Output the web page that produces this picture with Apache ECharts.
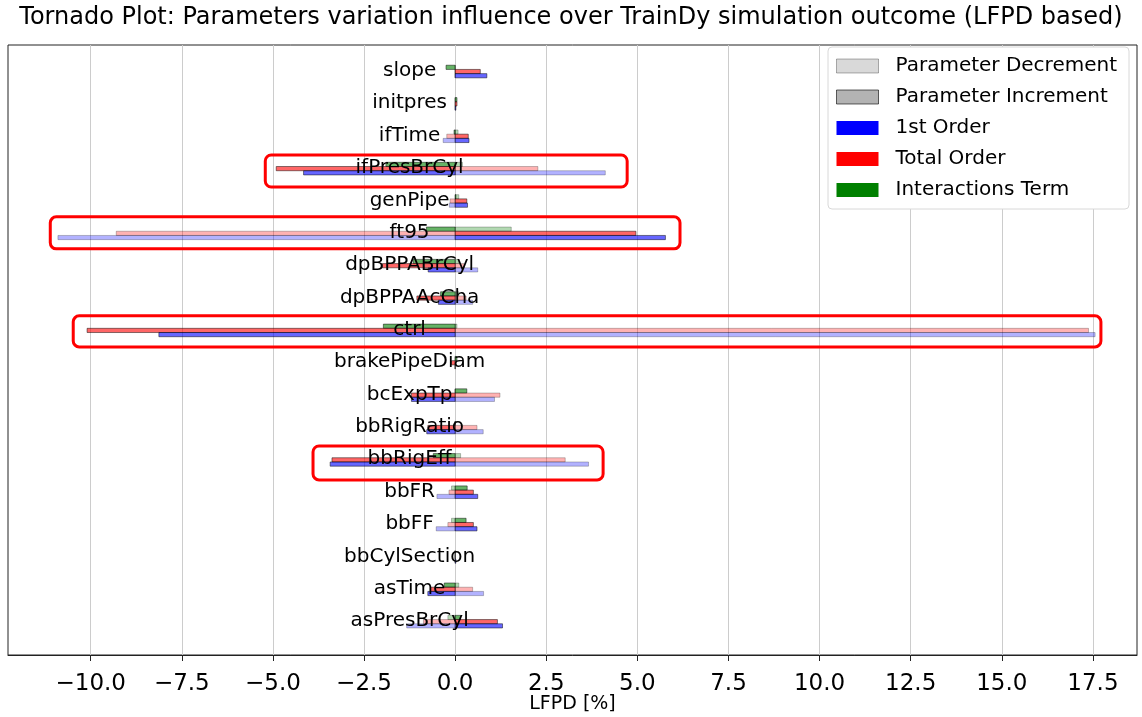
<!DOCTYPE html>
<html>
<head>
<meta charset="utf-8">
<script src="https://cdn.jsdelivr.net/npm/echarts@6/dist/echarts.min.js"></script>
<style>
  html, body { margin: 0; padding: 0; background: #fff; }
  #main { width: 1142px; height: 717px; }
</style>
</head>
<body>
<div id="main"></div>
<script>
// parameters, top to bottom
const params = ['slope', 'initpres', 'ifTime', 'ifPresBrCyl', 'genPipe', 'ft95', 'dpBPPABrCyl',
  'dpBPPAAcCha', 'ctrl', 'brakePipeDiam', 'bcExpTp', 'bbRigRatio', 'bbRigEff', 'bbFR', 'bbFF',
  'bbCylSection', 'asTime', 'asPresBrCyl'];

// LFPD variation [%] for parameter decrement / increment
const firstDec = [0, 0, -0.33, 4.12, -0.16, -10.9, 0.62, 0.48, 17.56, 0, 1.08, 0.77, 3.66, -0.5, -0.52, 0, 0.78, -1.33];
const firstInc = [0.87, 0.02, 0.38, -4.16, 0.34, 5.77, -0.74, -0.46, -8.13, 0, -1.2, -0.78, -3.43, 0.62, 0.6, 0.02, -0.75, 1.3];
const totalDec = [0, 0, -0.23, 2.27, -0.14, -9.3, 0.25, 0.3, 17.38, 0, 1.23, 0.6, 3.02, -0.17, -0.2, 0, 0.48, -0.87];
const totalInc = [0.69, 0.05, 0.36, -4.91, 0.32, 4.96, -2.0, -1.05, -10.1, -0.1, -1.2, -0.75, -3.38, 0.5, 0.5, 0, -0.68, 1.16];
const interDec = [0, 0, 0.08, 0.2, 0.1, 1.54, 0.1, 0.1, 0.05, 0, 0, 0, 0.15, -0.1, -0.1, 0, 0.1, -0.2];
const interInc = [-0.25, 0.05, -0.03, -1.9, 0.02, -0.79, -1.15, -0.4, -1.97, 0.05, 0.32, 0, -0.6, 0.33, 0.3, 0, -0.3, 0.15];

const xTicks = [-10, -7.5, -5, -2.5, 0, 2.5, 5, 7.5, 10, 12.5, 15, 17.5];

// red annotation boxes: parameter, x from, x to, y from, y to (in row units)
const highlights = [
  ['ifPresBrCyl', -5.21, 4.72, 2.63, 3.62],
  ['ft95', -11.11, 6.17, 4.54, 5.53],
  ['ctrl', -10.48, 17.72, 7.6, 8.56],
  ['bbRigEff', -3.9, 4.06, 11.62, 12.67]
];

const FONT = 'DejaVu Sans';
const barH = 0.13;

function barSeries(name, values, rgb, alpha, offset) {
  return {
    name: name,
    type: 'custom',
    data: values.map((v, i) => [v, i]),
    encode: { x: 0, y: 1 },
    z: 2,
    renderItem: function (p, api) {
      const v = api.value(0), i = api.value(1);
      const a = api.coord([0, i + offset - barH / 2]);
      const b = api.coord([v, i + offset + barH / 2]);
      return {
        type: 'rect',
        shape: {
          x: Math.min(a[0], b[0]), y: Math.min(a[1], b[1]),
          width: Math.abs(b[0] - a[0]), height: Math.abs(b[1] - a[1])
        },
        style: {
          fill: 'rgba(' + rgb + ',' + alpha + ')',
          stroke: 'rgba(0,0,0,' + alpha + ')',
          lineWidth: 0.8
        }
      };
    }
  };
}

const chart = echarts.init(document.getElementById('main'));

chart.setOption({
  animation: false,
  textStyle: { fontFamily: FONT },
  title: {
    text: 'Tornado Plot: Parameters variation influence over TrainDy simulation outcome (LFPD based)',
    left: 'center',
    top: 1,
    textStyle: { fontFamily: FONT, fontSize: 24, fontWeight: 'normal', color: '#000' }
  },
  legend: {
    orient: 'vertical',
    left: 828,
    top: 47,
    padding: [9, 12, 9, 8],
    itemWidth: 42,
    itemHeight: 14,
    itemGap: 11,
    icon: 'rect',
    backgroundColor: '#fff',
    borderColor: '#d8d8d8',
    borderWidth: 1,
    borderRadius: 4,
    textStyle: { fontFamily: FONT, fontSize: 20, color: '#000', padding: [0, 0, 0, 12] },
    data: [
      { name: 'Parameter Decrement', itemStyle: { color: 'rgba(128,128,128,0.3)', borderColor: 'rgba(0,0,0,0.3)', borderWidth: 1 } },
      { name: 'Parameter Increment', itemStyle: { color: 'rgba(128,128,128,0.6)', borderColor: 'rgba(0,0,0,0.6)', borderWidth: 1 } },
      { name: '1st Order', itemStyle: { color: '#0000ff', borderWidth: 0 } },
      { name: 'Total Order', itemStyle: { color: '#ff0000', borderWidth: 0 } },
      { name: 'Interactions Term', itemStyle: { color: '#008000', borderWidth: 0 } }
    ]
  },
  grid: {
    left: 8, right: 5, top: 45, bottom: 62,
    containLabel: false,
    outerBoundsMode: 'none',
    show: true, borderColor: '#222', borderWidth: 1
  },
  xAxis: {
    type: 'value',
    min: -12.27,
    max: 18.71,
    name: 'LFPD [%]',
    nameLocation: 'middle',
    nameGap: 40,
    nameMoveOverlap: false,
    nameTextStyle: { fontFamily: FONT, fontSize: 19, color: '#000' },
    axisLine: { show: true, onZero: false, lineStyle: { color: '#222' } },
    axisTick: { show: true, customValues: xTicks, length: 6, lineStyle: { color: '#222' } },
    axisLabel: {
      customValues: xTicks,
      fontSize: 23,
      color: '#000',
      margin: 18,
      formatter: v => v.toFixed(1).replace('-', '\u2212')
    },
    splitLine: { show: true, lineStyle: { color: '#cccccc', width: 1 } }
  },
  yAxis: {
    type: 'value',
    min: -0.77,
    max: 18.08,
    inverse: true,
    show: false,
    splitLine: { show: false }
  },
  series: [
    { name: 'Parameter Decrement', type: 'custom', data: [], renderItem: () => null },
    { name: 'Parameter Increment', type: 'custom', data: [], renderItem: () => null },
    barSeries('Interactions Term', interDec, '0,128,0', 0.3, -0.08),
    barSeries('Interactions Term', interInc, '0,128,0', 0.6, -0.08),
    barSeries('Total Order', totalDec, '255,0,0', 0.3, 0.05),
    barSeries('Total Order', totalInc, '255,0,0', 0.6, 0.05),
    barSeries('1st Order', firstDec, '0,0,255', 0.3, 0.18),
    barSeries('1st Order', firstInc, '0,0,255', 0.6, 0.18),
    {
      name: 'labels',
      type: 'custom',
      z: 5,
      data: params.map((p, i) => [-1.25, i]),
      encode: { x: 0, y: 1 },
      renderItem: function (p, api) {
        const c = api.coord([api.value(0), api.value(1)]);
        return {
          type: 'text',
          x: c[0], y: c[1] + 1,
          style: {
            text: params[p.dataIndex],
            fontFamily: FONT, fontSize: 20, fill: '#000',
            align: 'center', verticalAlign: 'middle'
          }
        };
      }
    },
    {
      name: 'boxes',
      type: 'custom',
      z: 6,
      data: highlights.map(h => [h[1], h[3], h[2], h[4]]),
      encode: { x: [0, 2], y: [1, 3] },
      renderItem: function (p, api) {
        const a = api.coord([api.value(0), api.value(1)]);
        const b = api.coord([api.value(2), api.value(3)]);
        return {
          type: 'rect',
          shape: { x: a[0], y: a[1], width: b[0] - a[0], height: b[1] - a[1], r: 6 },
          style: { fill: 'none', stroke: '#ff0000', lineWidth: 3 }
        };
      }
    }
  ]
});
</script>
</body>
</html>
